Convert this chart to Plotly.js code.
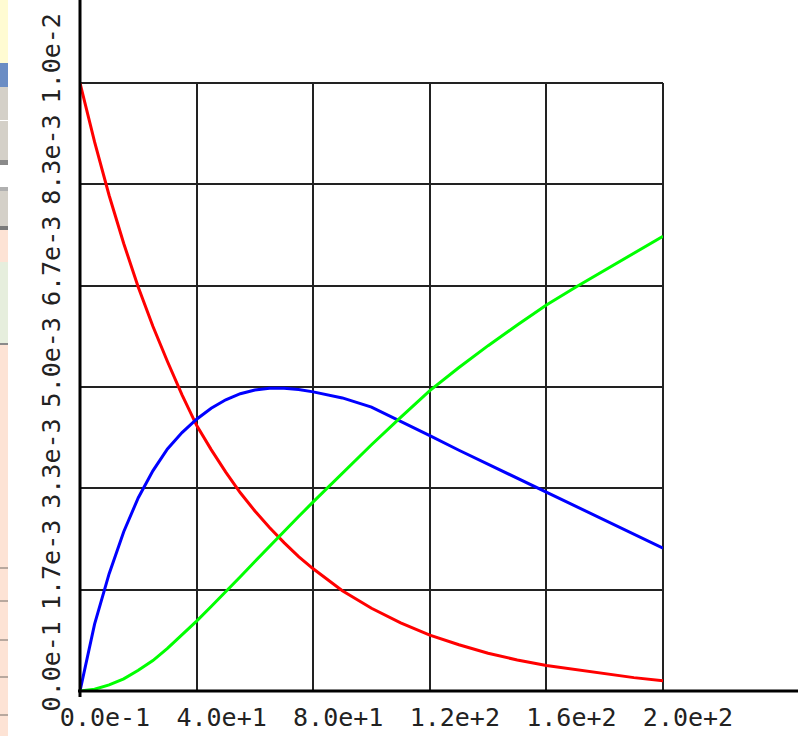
<!DOCTYPE html>
<html>
<head>
<meta charset="utf-8">
<script src="https://cdn.plot.ly/plotly-3.0.1.min.js"></script>
<style>
html,body{margin:0;padding:0;background:#fff;}
#chart{width:798px;height:736px;}
</style>
</head>
<body>
<div id="chart"></div>
<script>
// ---- data ----
var t = [0,5,10,15,20,25,30,35,40,45,50,55,60,65,70,75,80,90,100,110,120,130,140,150,160,170,180,190,200];
var redVals = [0.0100,0.00903,0.00815,0.00736,0.00664,0.00600,0.00542,0.00487,0.00437,0.00397,0.00360,0.00326,0.00296,0.00269,0.00244,0.00221,0.00201,0.00165,0.00136,0.00112,0.00092,0.00076,0.00062,0.00051,0.00042,0.00035,0.00028,0.00022,0.00017];
var blueVals = [0,0.00110,0.00193,0.00262,0.00318,0.00362,0.00398,0.00425,0.00447,0.00465,0.00479,0.00489,0.00495,0.00498,0.00498,0.00496,0.00492,0.00482,0.00467,0.00444,0.00420,0.00396,0.00373,0.00350,0.00327,0.00304,0.00281,0.00258,0.00235];
var greenVals = [0,0.00003,0.00010,0.00020,0.00034,0.00050,0.00070,0.00092,0.00115,0.00139,0.00163,0.00188,0.00213,0.00238,0.00263,0.00287,0.00311,0.00358,0.00405,0.00450,0.00494,0.00532,0.00568,0.00602,0.00635,0.00664,0.00692,0.00720,0.00748];

var xTickVals = [0,40,80,120,160,200];
var xTickText = ['0.0e-1','4.0e+1','8.0e+1','1.2e+2','1.6e+2','2.0e+2'];
var yTickVals = [0,0.01/6,0.02/6,0.03/6,0.04/6,0.05/6,0.01];
var yTickText = ['0.0e-1','1.7e-3','3.3e-3','5.0e-3','6.7e-3','8.3e-3','1.0e-2'];

// ---- geometry helpers (plot area 80..663 x, 83..691 y) ----
var L = 80, R = 663, T = 83, B = 691;
function px(x){ return (x - L) / (R - L); }
function py(y){ return (B - y) / (B - T); }

function rect(x0,y0,x1,y1,color){
  return {type:'rect', xref:'paper', yref:'paper', x0:px(x0), x1:px(x1), y0:py(y1), y1:py(y0),
          fillcolor:color, line:{width:0}, layer:'below'};
}
function hline(x0,x1,y,color,w,layer){
  return {type:'line', xref:'paper', yref:'paper', x0:px(x0), x1:px(x1), y0:py(y), y1:py(y),
          line:{color:color,width:w}, layer:layer||'above'};
}
function vline(x,y0,y1,color,w,layer){
  return {type:'line', xref:'paper', yref:'paper', x0:px(x), x1:px(x), y0:py(y0), y1:py(y1),
          line:{color:color,width:w}, layer:layer||'above'};
}

var shapes = [
  // left strip (background screenshot remnants)
  rect(0,0,8,63,'#FFFBD2'),
  rect(0,63,8,87,'#6B8DC4'),
  rect(0,87,8,120,'#D4D0C8'),
  rect(0,121,8,160,'#D4D0C8'),
  rect(0,160,8,165,'#8A8A8A'),
  rect(0,187,8,191,'#B0B0B0'),
  rect(0,191,8,226,'#D4D0C8'),
  rect(0,226,8,230,'#7A7A7A'),
  rect(0,230,8,736,'#FDE3D5'),
  rect(0,262,8,343,'#E6EEDD'),
  rect(0,343,8,345,'#8A8A8A'),
  rect(0,567,8,569,'#B8A89E'),
  rect(0,600,8,602,'#B8A89E'),
  rect(0,639,8,641,'#B8A89E'),
  rect(0,676,8,678,'#B8A89E'),
  rect(0,714,8,716,'#B8A89E'),
  // plot frame (top and right)
  hline(L,R,T,'#222',2,'below'),
  vline(R,T,B,'#222',2,'below'),
  // main axes, extended
  vline(L,697,0,'#000',3,'above'),
  hline(L-2,798,B,'#000',3,'above')
];

var traces = [
  {x:t, y:redVals, mode:'lines', line:{color:'#FF0000', width:3}, hoverinfo:'none'},
  {x:t, y:blueVals, mode:'lines', line:{color:'#0000FF', width:3}, hoverinfo:'none'},
  {x:t, y:greenVals, mode:'lines', line:{color:'#00FF00', width:3}, hoverinfo:'none'}
];

var tickFont = {family:'DejaVu Sans Mono, Liberation Mono, monospace', size:25, color:'#222'};

var layout = {
  width:798, height:736,
  margin:{l:L, r:798-R, t:T, b:736-B, pad:0},
  paper_bgcolor:'#fff', plot_bgcolor:'#fff',
  showlegend:false,
  xaxis:{
    range:[0,200], tickmode:'array', tickvals:xTickVals, ticktext:xTickText,
    showgrid:true, gridcolor:'#222', gridwidth:2, zeroline:false, showline:false,
    ticks:'', tickfont:tickFont, tickangle:0, ticklabelshift:25, ticklabelstandoff:9,
    fixedrange:true
  },
  yaxis:{
    range:[0,0.01], tickmode:'array', tickvals:yTickVals, ticktext:yTickText,
    showgrid:true, gridcolor:'#222', gridwidth:2, zeroline:false, showline:false,
    ticks:'', tickfont:tickFont, tickangle:-90, ticklabelshift:-21, ticklabelstandoff:14,
    fixedrange:true
  },
  shapes:shapes
};

Plotly.newPlot('chart', traces, layout, {staticPlot:true, displayModeBar:false});
</script>
</body>
</html>
